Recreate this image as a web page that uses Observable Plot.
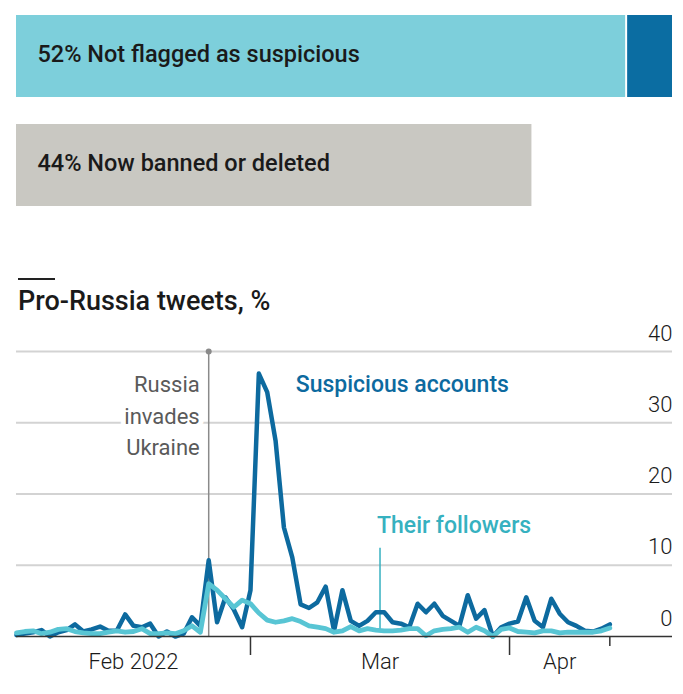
<!DOCTYPE html>
<html><head><meta charset="utf-8">
<script src="https://cdn.jsdelivr.net/npm/d3@7"></script>
<script src="https://cdn.jsdelivr.net/npm/@observablehq/plot@0.6"></script>
<style>
body{margin:0;background:#fff;font-family:Roboto,sans-serif;}
#wrap{width:683px;height:694px;position:relative;overflow:hidden;background:#fff}
#bars{position:absolute;left:0;top:0}
#lines{position:absolute;left:0;top:315px}
#rule{position:absolute;left:18px;top:278px;width:37px;height:2px;background:#222}
#title{position:absolute;left:18px;top:285px;font-size:27px;font-weight:500;color:#1a1a1a;line-height:32px;white-space:nowrap;letter-spacing:0px}
</style></head>
<body><div id="wrap"><div id="bars"></div><div id="rule"></div><div id="title">Pro-Russia tweets, %</div><div id="lines"></div></div>
<script>
// ---- bar data ----
const barRows = ["Not flagged as suspicious", "Now banned or deleted"];
const barValues = [52, 44];
const remainderValue = 4; // dark segment on first row
const barColors = ["#7dcfdb", "#c9c8c2"];
const remainderColor = "#0b6da2";

// ---- line data (daily from 1 Feb 2022) ----
const startDate = "2022-02-01";
const suspicious = [0.2,0.4,0.6,0.9,0.0,0.6,0.9,1.7,0.7,1.0,1.4,0.8,0.8,3.1,1.5,1.3,1.8,0.0,0.7,0.0,0.4,2.7,1.5,10.7,2.0,5.5,3.8,1.3,6.5,36.9,34.3,27.5,15.3,11.1,4.5,4.0,4.8,7.0,0.8,6.5,2.2,1.5,2.2,3.4,3.4,2.0,1.8,1.3,4.6,3.4,4.6,2.9,2.2,1.5,5.8,2.5,3.7,0.0,1.3,1.8,2.1,5.5,2.2,1.3,5.3,3.2,2.0,1.5,0.8,0.7,1.1,1.7];
const followers = [0.5,0.7,0.8,0.4,0.6,1.0,1.1,0.7,0.5,0.4,0.4,0.6,0.8,0.6,0.7,1.1,0.4,0.4,0.5,0.4,0.8,1.5,0.6,7.4,6.5,5.3,4.1,5.1,4.6,3.3,2.3,2.0,2.2,2.5,2.1,1.5,1.3,1.1,0.6,0.8,1.4,0.8,1.1,0.9,0.8,0.8,0.9,1.1,1.1,0.1,0.8,1.0,1.1,1.3,0.6,1.3,0.8,0.0,1.0,1.2,0.7,0.6,0.5,0.8,0.8,0.5,0.6,0.6,0.6,0.6,0.8,1.2];
const yTicks = [0, 10, 20, 30, 40];
const monthTicks = ["2022-03-01", "2022-04-01"];
const endTick = "2022-04-13";
const monthLabels = ["Feb 2022", "Mar", "Apr"];
const monthLabelDates = ["2022-02-15", "2022-03-16T12:00", "2022-04-07"];
const xDomain = ["2022-02-01", "2022-04-20T12:00"];
const invasionDate = "2022-02-24";
const invasionLabel = "Russia\ninvades\nUkraine";
const suspiciousLabel = {text: "Suspicious accounts", date: "2022-03-06T10:00", value: 35.4};
const followersLabel = {text: "Their followers", date: "2022-03-16T12:00", value: 15.6, lineTop: 12.4};

const darkBlue = "#0d6a9f", teal = "#58c5d4", tealText = "#36b1c0";

// ---- bars chart ----
const segs = [
  {row: barRows[0], x1: 0, x2: barValues[0], fill: barColors[0], inL: 0},
  {row: barRows[0], x1: barValues[0], x2: barValues[0] + remainderValue, fill: remainderColor, inL: 2},
  {row: barRows[1], x1: 0, x2: barValues[1], fill: barColors[1], inL: 0}
];
const barLabels = barRows.map((r, i) => ({row: r, text: `${barValues[i]}% ${r}`}));
const bars = Plot.plot({
  width: 683, height: 230,
  marginLeft: 16, marginRight: 11, marginTop: 14, marginBottom: 23,
  x: {domain: [0, barValues[0] + remainderValue], axis: null},
  y: {domain: barRows, axis: null, paddingInner: 0.245, paddingOuter: 0},
  style: {fontFamily: "Roboto, sans-serif", background: "#fff"},
  marks: [
    Plot.barX(segs.filter(d => d.inL === 0), {x1: "x1", x2: "x2", y: "row", fill: "fill"}),
    Plot.barX(segs.filter(d => d.inL > 0), {x1: "x1", x2: "x2", y: "row", fill: "fill", insetLeft: 2}),
    Plot.text(barLabels, {x: 0, y: "row", text: "text", dx: 21, dy: -2, textAnchor: "start", fontSize: 23.5, fontWeight: 500, fill: "#1a1a1a"})
  ]
});
document.getElementById("bars").append(bars);

// ---- line chart ----
const t0 = new Date(startDate);
const rowsS = suspicious.map((v, i) => ({date: d3.utcDay.offset(t0, i), value: v}));
const rowsF = followers.map((v, i) => ({date: d3.utcDay.offset(t0, i), value: v}));

const lines = Plot.plot({
  width: 683, height: 379,
  marginLeft: 16, marginRight: 11, marginTop: 36, marginBottom: 58,
  x: {type: "utc", domain: xDomain.map(d => new Date(d)), axis: null},
  y: {domain: [0, 40], axis: null},
  style: {fontFamily: "Roboto, sans-serif", background: "#fff", overflow: "visible"},
  marks: [
    Plot.ruleY(yTicks.filter(d => d > 0), {stroke: "#d3d3d3", strokeWidth: 2}),
    Plot.ruleX([new Date(invasionDate)], {y1: 0, y2: 40, stroke: "#8a8a8a", strokeWidth: 1.5}),
    Plot.dot([new Date(invasionDate)], {x: d => d, y: 40, r: 3, fill: "#8a8a8a"}),
    Plot.text([invasionLabel], {x: new Date(invasionDate), y: 31.3, text: d => d, dx: -9, textAnchor: "end", lineAnchor: "middle", lineHeight: 1.43, fontSize: 22, fill: "#5a5a5a", stroke: "white", strokeWidth: 10}),
    Plot.ruleX([new Date(followersLabel.date)], {y1: 0.6, y2: followersLabel.lineTop, stroke: tealText, strokeWidth: 1.5}),
    Plot.line(rowsS, {x: "date", y: "value", stroke: darkBlue, strokeWidth: 4.5, strokeLinejoin: "round"}),
    Plot.line(rowsF, {x: "date", y: "value", stroke: teal, strokeWidth: 4.8, strokeLinejoin: "round"}),
    Plot.ruleY([0], {stroke: "#333", strokeWidth: 1.5}),
    Plot.ruleX(monthTicks.map(d => new Date(d)), {y1: 0, y2: -19/7.125, stroke: "#333", strokeWidth: 1.5}),
    Plot.ruleX([new Date(endTick)], {y1: 0, y2: -10/7.125, stroke: "#333", strokeWidth: 1.5}),
    Plot.text(yTicks, {x: new Date(xDomain[1]), y: d => d, text: d => String(d), dy: -18, textAnchor: "end", fontSize: 22, fontWeight: 300, fill: "#1a1a1a"}),
    Plot.text(monthLabels, {x: (d, i) => new Date(monthLabelDates[i]), frameAnchor: "bottom", text: d => d, dy: 32, fontSize: 22, fontWeight: 300, fill: "#1a1a1a"}),
    Plot.text([suspiciousLabel], {x: d => new Date(d.date), y: "value", text: "text", textAnchor: "start", fontSize: 23, fontWeight: 500, fill: darkBlue}),
    Plot.text([followersLabel], {x: d => new Date(d.date), y: "value", text: "text", dx: -3, textAnchor: "start", fontSize: 23, fontWeight: 500, fill: tealText})
  ]
});
document.getElementById("lines").append(lines);
</script>
</body></html>
